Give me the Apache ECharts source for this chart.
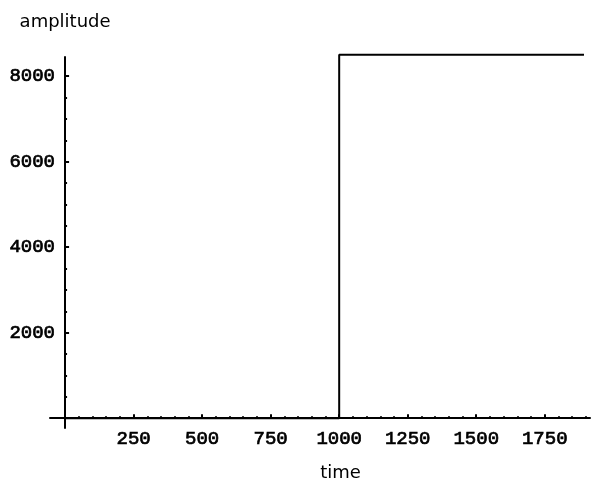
<!DOCTYPE html>
<html>
<head>
<meta charset="utf-8">
<script src="https://cdn.jsdelivr.net/npm/echarts@6/dist/echarts.min.js"></script>
<style>html,body{margin:0;padding:0;background:#fff}#c{width:592px;height:484px}</style>
</head>
<body>
<div id="c"></div>
<script>
// data
var times = [0, 1000, 1893];
var amplitudes = [0, 8500, 8500];
var xMajorTicks = [250, 500, 750, 1000, 1250, 1500, 1750];
var xMinorTicks = [];
for (var v = 50; v <= 1900; v += 50) xMinorTicks.push(v);
var yMajorTicks = [2000, 4000, 6000, 8000];
var yMinorTicks = [];
for (var w = 500; w <= 8000; w += 500) yMinorTicks.push(w);
var xName = 'time';
var yName = 'amplitude';

var chart = echarts.init(document.getElementById('c'));
var plain = function (val) { return String(val); };
var labelFont = { fontFamily: 'Liberation Mono', fontSize: 19, fontWeight: 'normal', color: '#000',
  textBorderColor: '#000', textBorderWidth: 0.7, formatter: plain };
var nameFont = { fontFamily: 'DejaVu Sans', fontSize: 18, color: '#000' };
var X_MIN = -55, X_MAX = 1915, Y_MIN = -230, Y_MAX = 8450;
chart.setOption({
  animation: false,
  backgroundColor: '#fff',
  grid: { left: 50, top: 57, width: 540, height: 371, containLabel: false, outerBoundsMode: 'none' },
  xAxis: [
    {
      type: 'value', min: X_MIN, max: X_MAX, position: 'bottom',
      axisLine: { onZero: true, onZeroAxisIndex: 0, lineStyle: { color: '#000', width: 2 } },
      axisTick: { show: true, inside: true, length: 2, customValues: xMinorTicks, lineStyle: { color: '#000', width: 2 } },
      axisLabel: Object.assign({ show: true, margin: 1, customValues: xMajorTicks }, labelFont),
      splitLine: { show: false },
      name: xName, nameLocation: 'middle', nameGap: 36,
      nameTextStyle: Object.assign({ padding: [0, 0, 0, 41] }, nameFont)
    },
    {
      type: 'value', min: X_MIN, max: X_MAX, position: 'bottom',
      axisLine: { show: false, onZero: true, onZeroAxisIndex: 0 },
      axisTick: { show: true, inside: true, length: 4, customValues: xMajorTicks, lineStyle: { color: '#000', width: 2 } },
      axisLabel: { show: false },
      splitLine: { show: false }
    }
  ],
  yAxis: [
    {
      type: 'value', min: Y_MIN, max: Y_MAX, position: 'left',
      axisLine: { onZero: true, onZeroAxisIndex: 0, lineStyle: { color: '#000', width: 2 } },
      axisTick: { show: true, inside: true, length: 2, customValues: yMinorTicks, lineStyle: { color: '#000', width: 2 } },
      axisLabel: Object.assign({ show: true, margin: -5, customValues: yMajorTicks }, labelFont),
      splitLine: { show: false },
      name: yName, nameLocation: 'end', nameGap: 26,
      nameTextStyle: nameFont
    },
    {
      type: 'value', min: Y_MIN, max: Y_MAX, position: 'left',
      axisLine: { show: false, onZero: true, onZeroAxisIndex: 0 },
      axisTick: { show: true, inside: true, length: 4, customValues: yMajorTicks, lineStyle: { color: '#000', width: 2 } },
      axisLabel: { show: false },
      splitLine: { show: false }
    }
  ],
  series: [{
    type: 'line',
    xAxisIndex: 0, yAxisIndex: 0,
    step: 'end',
    clip: false,
    showSymbol: false,
    symbol: 'none',
    lineStyle: { color: '#000', width: 2 },
    data: times.map(function (t, i) { return [t, amplitudes[i]]; })
  }]
});
</script>
</body>
</html>
